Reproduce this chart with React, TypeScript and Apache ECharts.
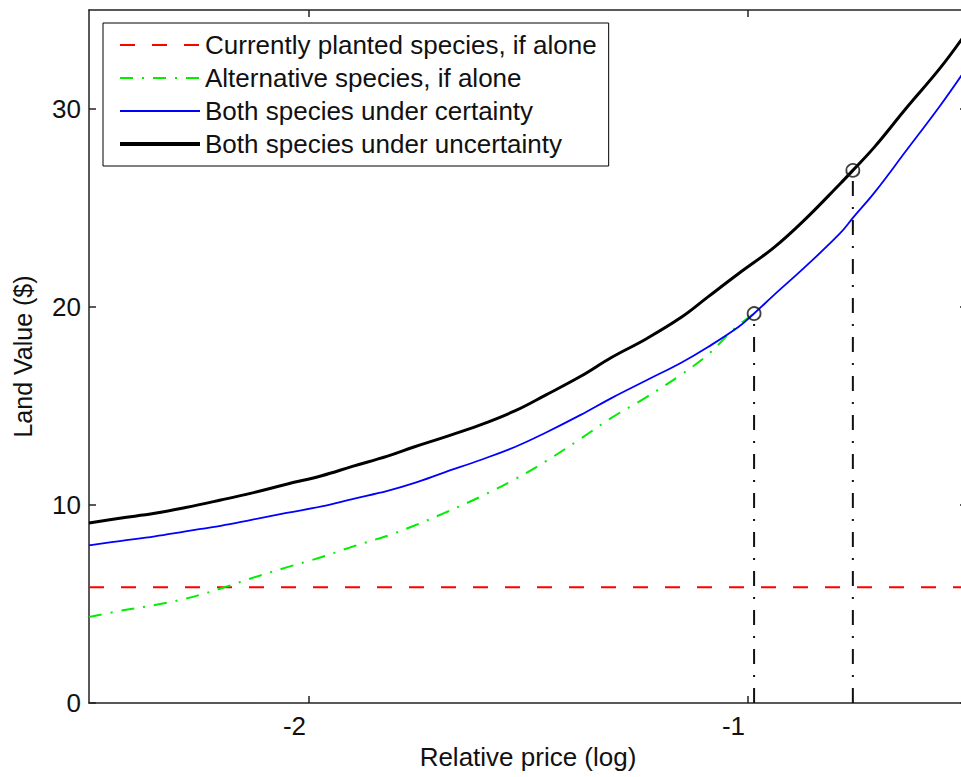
import React, { useEffect, useRef } from "react";
import * as echarts from "echarts";

const xTicks = [-2, -1];
const yTicks = [0, 10, 20, 30];

const seriesNames = [
  "Currently planted species, if alone",
  "Alternative species, if alone",
  "Both species under certainty",
  "Both species under uncertainty",
];

const plantedX = [-2.5, -0.5];
const plantedY = [5.85, 5.85];

const altX = [-2.5, -2.43, -2.35, -2.28, -2.2, -2.13, -2.05, -1.97, -1.9, -1.82, -1.76, -1.69, -1.61, -1.53, -1.46, -1.38, -1.31, -1.23, -1.15, -1.09, -1.03, -0.985];
const altY = [4.34, 4.65, 4.95, 5.27, 5.78, 6.3, 6.85, 7.37, 7.9, 8.45, 8.95, 9.6, 10.4, 11.3, 12.2, 13.35, 14.4, 15.45, 16.6, 17.6, 18.9, 19.67];

const certX = [-2.5, -2.43, -2.35, -2.28, -2.2, -2.13, -2.05, -1.97, -1.9, -1.82, -1.76, -1.69, -1.61, -1.53, -1.46, -1.38, -1.31, -1.23, -1.15, -1.09, -1.02, -0.985, -0.94, -0.87, -0.79, -0.76, -0.71, -0.64, -0.56, -0.5];
const certY = [7.96, 8.18, 8.42, 8.67, 8.95, 9.25, 9.6, 9.93, 10.3, 10.71, 11.1, 11.65, 12.26, 12.93, 13.65, 14.55, 15.4, 16.3, 17.2, 17.98, 19.0, 19.67, 20.6, 22.0, 23.7, 24.5, 25.8, 27.85, 30.2, 32.1];

const uncX = [-2.5, -2.43, -2.35, -2.28, -2.2, -2.13, -2.05, -1.97, -1.9, -1.82, -1.76, -1.69, -1.61, -1.53, -1.46, -1.38, -1.31, -1.23, -1.15, -1.09, -1.02, -0.94, -0.87, -0.79, -0.76, -0.71, -0.64, -0.56, -0.5];
const uncY = [9.09, 9.33, 9.58, 9.87, 10.25, 10.6, 11.05, 11.48, 11.95, 12.47, 12.93, 13.43, 14.03, 14.75, 15.55, 16.5, 17.45, 18.4, 19.49, 20.51, 21.69, 23.0, 24.4, 26.2, 26.9, 28.1, 30.0, 32.1, 33.9];

const switchX = [-0.985, -0.76];
const switchY = [19.67, 26.9];

const zip = (xs: number[], ys: number[]) => xs.map((x, i) => [x, ys[i]]);

const FONT = "'Liberation Sans', Arial, sans-serif";
const TEXT = "#111";
const CHART_W = 980;

export default function App() {
  const ref = useRef<HTMLDivElement>(null);

  useEffect(() => {
    if (!ref.current) return;
    const chart = echarts.init(ref.current, null, { renderer: "svg" });

    const axisLineStyle = { color: "#222", width: 1.5 };
    const tickStyle = { color: "#222", width: 1.5 };

    const dropLines = switchX.map((x, i) => ({
      type: "line",
      name: "drop" + i,
      data: [
        [x, 0],
        [x, switchY[i]],
      ],
      symbol: "none",
      lineStyle: { color: "#111", width: 2, type: [15, 11, 2, 11] },
      z: 1,
      silent: true,
    }));

    const curveCommon = { symbol: "none", smooth: 0.4 };

    const option: any = {
      animation: false,
      backgroundColor: "#fff",
      grid: { left: 89, right: CHART_W - 967, top: 10, bottom: 74, containLabel: false },
      legend: {
        orient: "vertical",
        left: 103,
        top: 23,
        data: [
          { name: seriesNames[0] },
          { name: seriesNames[1] },
          { name: seriesNames[2], lineStyle: { width: 2 } },
          { name: seriesNames[3], lineStyle: { width: 4 } },
        ],
        itemWidth: 80,
        itemHeight: 14,
        itemGap: 7,
        padding: [9, 12, 9, 15],
        borderColor: "#000",
        borderWidth: 1,
        backgroundColor: "#fff",
        selectedMode: false,
        itemStyle: { opacity: 0 },
        textStyle: { fontFamily: FONT, fontSize: 26, color: TEXT },
      },
      xAxis: [
        {
          type: "value",
          min: -2.5,
          max: -0.5,
          position: "bottom",
          axisLine: { show: true, onZero: false, lineStyle: axisLineStyle },
          axisTick: { show: true, inside: true, length: 7, customValues: xTicks, lineStyle: tickStyle },
          axisLabel: {
            customValues: xTicks,
            fontFamily: FONT,
            fontSize: 26,
            color: TEXT,
            margin: 10,
            padding: [0, 28, 0, 0],
          },
          splitLine: { show: false },
          name: "Relative price (log)",
          nameLocation: "middle",
          nameGap: 39,
          nameTextStyle: { fontFamily: FONT, fontSize: 26, color: TEXT },
        },
        {
          type: "value",
          min: -2.5,
          max: -0.5,
          position: "top",
          axisLine: { show: true, onZero: false, lineStyle: axisLineStyle },
          axisTick: { show: true, inside: true, length: 7, customValues: xTicks, lineStyle: tickStyle },
          axisLabel: { show: false },
          splitLine: { show: false },
        },
      ],
      yAxis: [
        {
          type: "value",
          min: 0,
          max: 35,
          interval: 10,
          position: "left",
          axisLine: { show: true, onZero: false, lineStyle: axisLineStyle },
          axisTick: { show: true, inside: true, length: 7, customValues: yTicks, lineStyle: tickStyle },
          axisLabel: {
            customValues: yTicks,
            fontFamily: FONT,
            fontSize: 26,
            color: TEXT,
            margin: 8,
          },
          splitLine: { show: false },
          name: "Land Value ($)",
          nameLocation: "middle",
          nameGap: 54,
          nameTextStyle: { fontFamily: FONT, fontSize: 25, color: TEXT },
        },
        {
          type: "value",
          min: 0,
          max: 35,
          interval: 10,
          position: "right",
          axisLine: { show: true, onZero: false, lineStyle: axisLineStyle },
          axisTick: { show: true, inside: true, length: 7, customValues: yTicks, lineStyle: tickStyle },
          axisLabel: { show: false },
          splitLine: { show: false },
        },
      ],
      series: [
        {
          type: "line",
          name: seriesNames[0],
          data: zip(plantedX, plantedY),
          symbol: "none",
          lineStyle: { color: "#ff0000", width: 2, type: [15, 17] },
          itemStyle: { color: "#ff0000" },
          z: 2,
        },
        {
          type: "line",
          name: seriesNames[1],
          data: zip(altX, altY),
          ...curveCommon,
          lineStyle: { color: "#00ee00", width: 2, type: [13, 9, 2, 9] },
          itemStyle: { color: "#00ee00" },
          z: 3,
        },
        {
          type: "line",
          name: seriesNames[2],
          data: zip(certX, certY),
          ...curveCommon,
          lineStyle: { color: "#0000ff", width: 1.8 },
          itemStyle: { color: "#0000ff" },
          z: 4,
        },
        {
          type: "line",
          name: seriesNames[3],
          data: zip(uncX, uncY),
          ...curveCommon,
          lineStyle: { color: "#000000", width: 3 },
          itemStyle: { color: "#000000" },
          z: 5,
        },
        ...dropLines,
        {
          type: "scatter",
          name: "switch",
          data: zip(switchX, switchY),
          symbol: "circle",
          symbolSize: 13,
          itemStyle: { color: "rgba(0,0,0,0)", borderColor: "#111", borderWidth: 1.8 },
          z: 6,
          silent: true,
        },
      ],
    };

    chart.setOption(option);
    return () => chart.dispose();
  }, []);

  return (
    <div
      style={{
        position: "fixed",
        left: 0,
        top: 0,
        width: 961,
        height: 777,
        overflow: "hidden",
        background: "#fff",
      }}
    >
      <div ref={ref} style={{ width: CHART_W, height: 777 }} />
    </div>
  );
}
